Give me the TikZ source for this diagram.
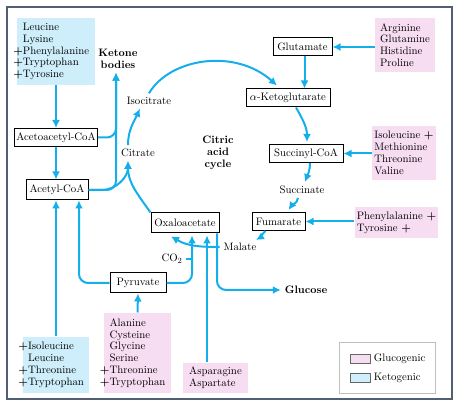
\documentclass[tikz,border=0pt]{standalone}
\usepackage{tikz}
\usetikzlibrary{arrows.meta}
\definecolor{flujo}{RGB}{20,175,235}
\definecolor{gluco}{RGB}{247,221,242}
\definecolor{ceto}{RGB}{205,238,250}
\definecolor{marco}{RGB}{80,95,115}
\newcommand{\mas}{\textbf{+}}

\begin{document}
\begin{tikzpicture}[x=1pt,y=1pt,font=\fontsize{10.8}{11.8}\selectfont,line width=1pt,
  >={Latex[length=8pt,width=8pt]},
  caja/.style={draw,fill=white,inner sep=2pt,minimum height=18pt},
  lista/.style={align=left,inner sep=2pt},
  etiq/.style={inner sep=1pt,outer sep=3pt},
  flecha/.style={->,flujo,line width=2pt}]
  \useasboundingbox (0,0) rectangle (461,403);
  \draw[marco,line width=1.2pt] (7,4) rectangle (452,396);
  % aminoacidos
  \node[lista,fill=ceto,minimum width=78pt,minimum height=67pt] (cetoA) at (56,351.5)
    {Leucine\\Lysine\\\llap{\mas}Phenylalanine\\\llap{\mas}Tryptophan\\\llap{\mas}Tyrosine};
  \node[lista,fill=ceto,minimum width=66pt,minimum height=56pt] (cetoB) at (56,38)
    {\llap{\mas}Isoleucine\\Leucine\\\llap{\mas}Threonine\\\llap{\mas}Tryptophan};
  \node[lista,fill=gluco,minimum width=60pt,minimum height=54pt] (glucoA) at (405,358)
    {Arginine\\Glutamine\\Histidine\\Proline};
  \node[lista,fill=gluco,minimum width=62pt,minimum height=54pt] (glucoB) at (404,250)
    {Isoleucine \mas\\Methionine\\Threonine\\Valine};
  \node[lista,fill=gluco,minimum width=77pt,minimum height=31pt] (glucoC) at (396.5,180.5)
    {Phenylalanine \mas\\Tyrosine \mas};
  \node[lista,fill=gluco,minimum width=67pt,minimum height=80pt] (glucoD) at (137.5,50)
    {Alanine\\Cysteine\\Glycine\\Serine\\\llap{\mas}Threonine\\\llap{\mas}Tryptophan};
  \node[lista,fill=gluco,minimum width=65pt,minimum height=30pt] (glucoE) at (215.5,25)
    {Asparagine\\Aspartate};
  % intermedios
  \node[caja,minimum width=82pt] (acac) at (56,265.5) {Acetoacetyl-CoA};
  \node[caja,minimum width=62pt,minimum height=20pt] (acetil) at (57,213) {Acetyl-CoA};
  \node[caja,minimum width=59pt] (glut) at (302.5,356) {Glutamate};
  \node[caja,minimum width=84pt] (akg) at (288,305) {$\alpha$-Ketoglutarate};
  \node[caja,minimum width=74pt] (succ) at (306,249.5) {Succinyl-CoA};
  \node[caja,minimum width=53pt] (fum) at (278.5,181.5) {Fumarate};
  \node[caja,minimum width=68pt,minimum height=20pt] (oaa) at (185,180) {Oxaloacetate};
  \node[caja,minimum width=56pt,minimum height=20pt] (pir) at (138,120) {Pyruvate};
  \node[etiq,align=center,font=\fontsize{10.8}{11.8}\selectfont\bfseries] (cuerpos) at (118,344) {Ketone\\bodies};
  \node[etiq] (citr) at (138,250) {Citrate};
  \node[etiq] (isoc) at (149,302) {Isocitrate};
  \node[etiq] (succi) at (302,213) {Succinate};
  \node[etiq] (mal) at (240,156) {Malate};
  \node[etiq] (co2) at (172,144) {CO$_2$};
  \node[etiq,font=\fontsize{10.8}{11.8}\selectfont\bfseries] (glc) at (306,113) {Glucose};
  \node[align=center,font=\fontsize{10.8}{11.8}\selectfont\bfseries] (ciclo) at (218,250) {Citric\\acid\\cycle};
  % ciclo
  \draw[flecha] (oaa.north west) to[out=125,in=-90] ([xshift=-10pt]citr.south);
  \draw[flecha] ([xshift=-10pt]citr.north) to[out=90,in=-115] ([xshift=-9pt]isoc.south);
  \draw[flecha] (isoc.north) .. controls (170,345) and (235,355) .. ([xshift=-11pt,yshift=3pt]akg.north);
  \draw[flecha] ([xshift=8pt]akg.south) to[out=-60,in=90] ([xshift=1pt,yshift=2pt]succ.north);
  \draw[flecha] ([xshift=4pt]succ.south) to[out=-90,in=70] ([xshift=3pt]succi.north);
  \draw[flecha] ([xshift=-4pt]succi.south) to[out=-100,in=55] ([xshift=10pt,yshift=2pt]fum.north);
  \draw[flecha] ([xshift=-13pt]fum.south) to[out=-140,in=30] ([shift={(16pt,7pt)}]mal.center);
  \draw[flecha] (mal.west) to[out=180,in=-30] ([xshift=-14pt,yshift=-3pt]oaa.south);
  % entradas
  \draw[flecha] (cetoA.south) -- (acac.north);
  \draw[flecha] (acac.south) -- (acac.south |- acetil.north);
  \draw[flecha,rounded corners=9pt] (acac.east) -| ([xshift=-2pt]cuerpos.south);
  \draw[flecha,rounded corners=9pt] (acetil.east) -| ([xshift=-2pt]cuerpos.south);
  \draw[flecha] (acetil.east) -- ++(13,0) to[out=0,in=-90] ([xshift=-10pt]citr.south);
  \draw[flecha] (glucoA.west |- glut.east) -- (glut.east);
  \draw[flecha] ([xshift=2pt]glut.south) -- ([xshift=2pt]glut.south |- akg.north);
  \draw[flecha] (glucoB.west |- succ.east) -- (succ.east);
  \draw[flecha] (glucoC.west |- fum.east) -- (fum.east);
  \draw[flecha] (cetoB.north) -- (cetoB.north |- acetil.south);
  \draw[flecha,rounded corners=9pt] (pir.west) -| ([xshift=22pt]acetil.south);
  \draw[flecha] (glucoD.north) -- (pir.south);
  \draw[flecha,rounded corners=9pt] (pir.east) -| ([xshift=7pt,yshift=-2pt]oaa.south);
  \draw[flujo,line width=2pt] (co2.east) -- ([xshift=7pt]oaa.south |- co2.east);
  \draw[flecha] ([xshift=22pt]oaa.south |- glucoE.north) -- ([xshift=22pt,yshift=-2pt]oaa.south);
  \draw[flecha,rounded corners=9pt] ([xshift=32pt]oaa.south) |- (glc.west);
  % leyenda
  \node[draw=black!25,line width=0.8pt,fill=white,minimum width=96pt,minimum height=51pt] (leyenda) at (387,35.5) {};
  \node[draw=black!60,line width=0.6pt,fill=gluco,minimum width=20pt,minimum height=9pt,inner sep=0pt] (mgluco) at (360,44.5) {};
  \node[draw=black!60,line width=0.6pt,fill=ceto,minimum width=20pt,minimum height=9pt,inner sep=0pt] (mceto) at (360,25.5) {};
  \node[anchor=west,inner sep=3pt] (tgluco) at (mgluco.east) {Glucogenic};
  \node[anchor=west,inner sep=3pt] (tceto) at (mceto.east) {Ketogenic};
\end{tikzpicture}
\end{document}
